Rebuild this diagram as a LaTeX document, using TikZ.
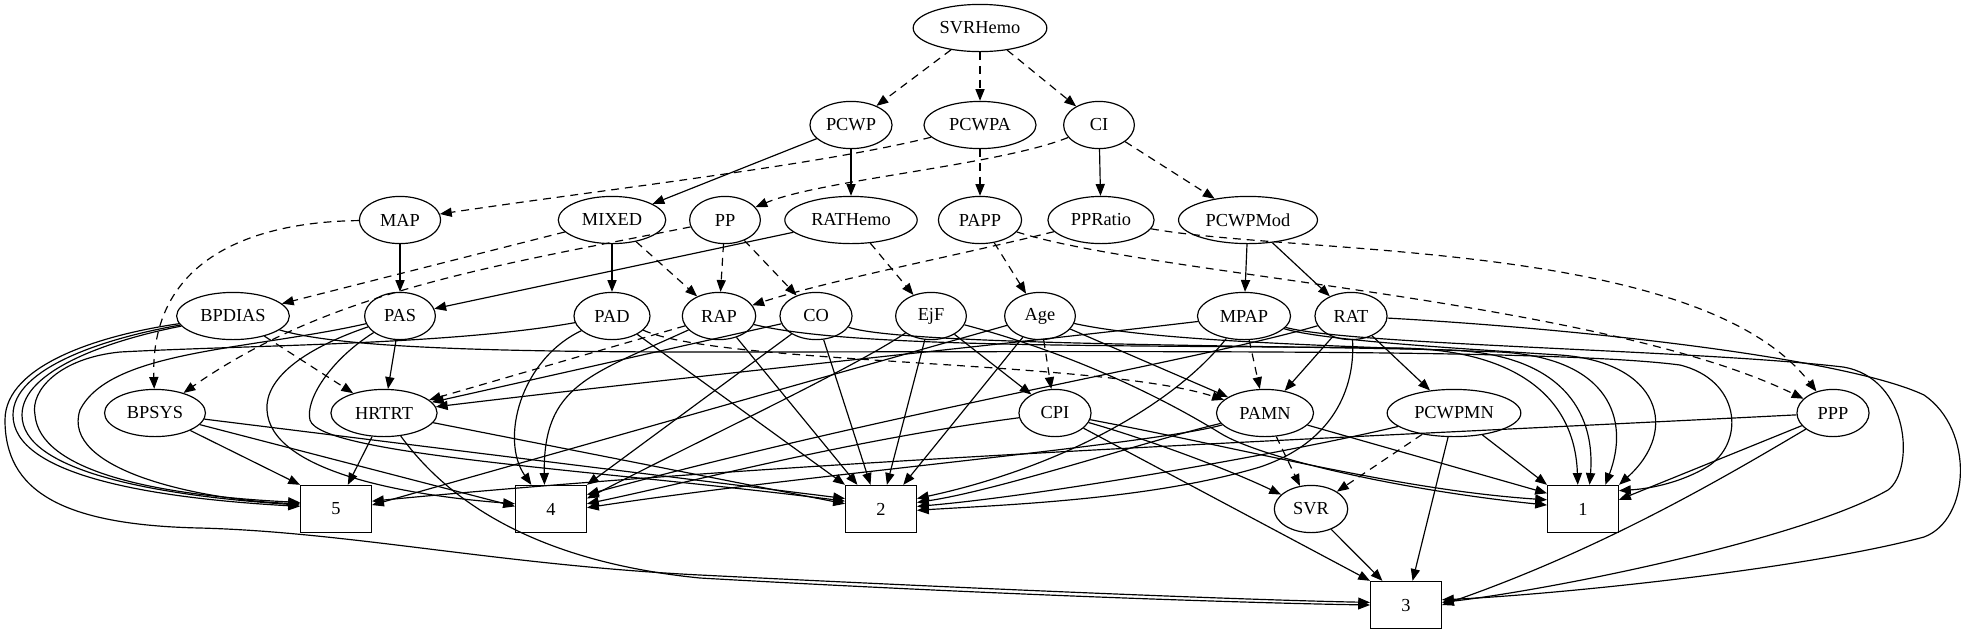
\documentclass[tikz,border=0pt]{standalone}
\usepackage{fontspec}
\setmainfont{Liberation Serif}
\usetikzlibrary{arrows.meta,shapes.geometric}
\begin{document}
\begin{tikzpicture}[x=0.763pt,y=-0.763pt,
  el/.style={draw, ellipse, line width=0.9pt, minimum height=36pt, inner sep=0pt, font=\fontsize{14}{16}\selectfont},
  bx/.style={draw, rectangle, line width=0.9pt, minimum width=54pt, minimum height=36pt, inner sep=0pt, font=\fontsize{14}{16}\selectfont},
  e/.style={-{Triangle[length=9pt,width=7pt]}, line width=0.9pt},
  d/.style={e, dash pattern=on 6pt off 4.5pt}]
\useasboundingbox (0,0) rectangle (1963,635);
% nodes
\node[el, minimum width=102pt] (SVRHemo) at (980,28) {SVRHemo};
\node[el, minimum width=62.6pt] (PCWP) at (851,125) {PCWP};
\node[el, minimum width=85.5pt] (PCWPA) at (980,125) {PCWPA};
\node[el, minimum width=54pt] (CI) at (1099,125) {CI};
\node[el, minimum width=62pt] (MAP) at (400,220) {MAP};
\node[el, minimum width=82pt] (MIXED) at (612,220) {MIXED};
\node[el, minimum width=54pt] (PP) at (725,220) {PP};
\node[el, minimum width=101pt] (RATHemo) at (851,220) {RATHemo};
\node[el, minimum width=63.5pt] (PAPP) at (980,220) {PAPP};
\node[el, minimum width=81pt] (PPRatio) at (1101,220) {PPRatio};
\node[el, minimum width=106pt] (PCWPMod) at (1248,220) {PCWPMod};
\node[el, minimum width=86pt] (BPDIAS) at (233,316) {BPDIAS};
\node[el, minimum width=54pt] (PAS) at (400,316) {PAS};
\node[el, minimum width=58pt] (PAD) at (612,316) {PAD};
\node[el, minimum width=56pt] (RAP) at (719,316) {RAP};
\node[el, minimum width=55pt] (CO) at (816,316) {CO};
\node[el, minimum width=54pt] (EjF) at (931,316) {EjF};
\node[el, minimum width=54pt] (Age) at (1040,316) {Age};
\node[el, minimum width=71pt] (MPAP) at (1244,316) {MPAP};
\node[el, minimum width=55pt] (RAT) at (1351,316) {RAT};
\node[el, minimum width=77pt] (BPSYS) at (155,413) {BPSYS};
\node[el, minimum width=81pt] (HRTRT) at (384,413) {HRTRT};
\node[el, minimum width=55pt] (CPI) at (1055,413) {CPI};
\node[el, minimum width=74pt] (PAMN) at (1265,413) {PAMN};
\node[el, minimum width=102pt] (PCWPMN) at (1454,413) {PCWPMN};
\node[el, minimum width=55pt] (PPP) at (1833,413) {PPP};
\node[bx] (b5) at (336,509) {5};
\node[bx] (b4) at (551,509) {4};
\node[bx] (b2) at (881,509) {2};
\node[el, minimum width=56pt] (SVR) at (1311,509) {SVR};
\node[bx] (b1) at (1583,509) {1};
\node[bx] (b3) at (1406,605) {3};
% dashed edges
\draw[d] (SVRHemo) -- (PCWP);
\draw[d] (SVRHemo) -- (PCWPA);
\draw[d] (SVRHemo) -- (CI);
\draw[d] (PCWPA) .. controls (820,165) and (600,190) .. (MAP);
\draw[d] (PCWPA) -- (PAPP);
\draw[d] (CI) .. controls (1000,165) and (820,180) .. (PP);
\draw[d] (CI) -- (PCWPMod);
\draw[d] (MAP) .. controls (250,222) and (150,260) .. (BPSYS);
\draw[d] (MIXED) -- (BPDIAS);
\draw[d] (MIXED) -- (RAP);
\draw[d] (PP) -- (RAP);
\draw[d] (PP) -- (CO);
\draw[d] (PP) .. controls (500,265) and (330,290) .. (BPSYS);
\draw[d] (RATHemo) -- (EjF);
\draw[d] (PAPP) -- (Age);
\draw[d] (PAPP) .. controls (1150,275) and (1600,300) .. (PPP);
\draw[d] (PPRatio) .. controls (1300,255) and (1700,240) .. (PPP);
\draw[d] (PPRatio) .. controls (960,255) and (830,280) .. (RAP);
\draw[d] (BPDIAS) -- (HRTRT);
\draw[d] (RAP) -- (HRTRT);
\draw[d] (PAD) .. controls (720,365) and (1100,360) .. (PAMN);
\draw[d] (Age) -- (CPI);
\draw[d] (MPAP) -- (PAMN);
\draw[d] (PAMN) -- (SVR);
\draw[d] (PCWPMN) -- (SVR);
% solid edges, upper part
\draw[e] (PCWP) -- (MIXED);
\draw[e] (PCWP) -- (RATHemo);
\draw[e] (CI) -- (PPRatio);
\draw[e] (MAP) -- (PAS);
\draw[e] (MIXED) -- (PAD);
\draw[e] (RATHemo) -- (PAS);
\draw[e] (PCWPMod) -- (MPAP);
\draw[e] (PCWPMod) -- (RAT);
% PAS
\draw[e] (PAS) -- (HRTRT);
\draw[e] (PAS) .. controls (250,350) and (110,350) .. (80,410) .. controls (60,470) and (200,500) .. ([yshift=4pt]b5.west);
\draw[e] (PAS) .. controls (300,350) and (265,380) .. (267,410) .. controls (270,470) and (400,495) .. ([yshift=4pt]b4.west);
\draw[e] (PAS) .. controls (330,360) and (305,400) .. (310,420) .. controls (320,455) and (600,470) .. ([yshift=6pt]b2.west);
% BPDIAS
\draw[e] (BPDIAS) .. controls (110,340) and (22,370) .. (22,415) .. controls (22,470) and (150,495) .. ([yshift=3pt]b5.west);
\draw[e] (BPDIAS) .. controls (105,338) and (13,368) .. (13,415) .. controls (13,475) and (150,498) .. ([yshift=2pt]b5.west);
\draw[e] (BPDIAS) .. controls (100,335) and (5,365) .. (5,420) .. controls (5,490) and (60,525) .. (200,528) .. controls (350,532) and (500,565) .. (700,575) .. controls (1000,590) and (1250,600) .. ([yshift=2pt]b3.west);
\draw[e] (BPDIAS) .. controls (330,345) and (450,352) .. (700,352) .. controls (1100,352) and (1550,348) .. (1680,365) .. controls (1740,380) and (1745,440) .. (1710,465) .. controls (1690,478) and (1660,488) .. ([yshift=14pt]b1.east);
% PAD
\draw[e] (PAD) .. controls (450,345) and (250,345) .. (120,352) .. controls (60,358) and (30,390) .. (35,415) .. controls (40,470) and (150,495) .. ([yshift=5pt]b5.west);
\draw[e] (PAD) .. controls (520,360) and (500,440) .. ([xshift=-15pt]b4.north);
\draw[e] (PAD) -- (b2.north west);
% RAP
\draw[e] (RAP) .. controls (590,375) and (543,385) .. ([xshift=-5pt]b4.north);
\draw[e] (RAP) -- ([xshift=-18pt]b2.north);
\draw[e] (RAP) .. controls (850,348) and (1100,345) .. (1400,348) .. controls (1520,350) and (1575,400) .. ([xshift=-4pt]b1.north);
% CO
\draw[e] (CO) -- (HRTRT);
\draw[e] (CO) -- (b4.north east);
\draw[e] (CO) -- ([xshift=-8pt]b2.north);
\draw[e] (CO) .. controls (900,345) and (1250,345) .. (1450,350) .. controls (1570,355) and (1595,420) .. ([xshift=5pt]b1.north);
% EjF
\draw[e] (EjF) -- (CPI);
\draw[e] (EjF) .. controls (850,370) and (700,440) .. ([yshift=8pt]b4.east);
\draw[e] (EjF) -- ([xshift=4.5pt]b2.north);
\draw[e] (EjF) .. controls (1060,350) and (1150,390) .. (1220,433) .. controls (1260,458) and (1400,490) .. ([yshift=3pt]b1.west);
% Age
\draw[e] (Age) -- (PAMN);
\draw[e] (Age) -- ([xshift=17pt]b2.north);
\draw[e] (Age) -- ([yshift=3pt]b5.east);
\draw[e] (Age) .. controls (1150,340) and (1300,345) .. (1500,352) .. controls (1610,358) and (1630,420) .. ([xshift=17pt]b1.north);
% MPAP
\draw[e] (MPAP) .. controls (1000,345) and (700,375) .. (HRTRT);
\draw[e] (MPAP) .. controls (1170,410) and (1050,470) .. ([yshift=8pt]b2.east);
\draw[e] (MPAP) .. controls (1320,340) and (1450,348) .. (1560,355) .. controls (1660,362) and (1680,430) .. (b1.north east);
\draw[e] (MPAP) .. controls (1350,345) and (1700,350) .. (1843,367) .. controls (1910,378) and (1915,470) .. (1888,490) .. controls (1800,540) and (1550,590) .. ([yshift=2pt]b3.east);
% RAT
\draw[e] (RAT) -- (PAMN);
\draw[e] (RAT) -- (PCWPMN);
\draw[e] (RAT) .. controls (1200,360) and (900,410) .. ([yshift=11pt]b4.east);
\draw[e] (RAT) .. controls (1355,380) and (1340,440) .. (1260,467) .. controls (1150,500) and (1000,505) .. ([yshift=-1pt]b2.east);
\draw[e] (RAT) .. controls (1600,330) and (1850,360) .. (1924,395) .. controls (1975,430) and (1970,520) .. (1924,537) .. controls (1800,570) and (1550,595) .. ([yshift=4pt]b3.east);
% BPSYS
\draw[e] (BPSYS) -- (b5.north west);
\draw[e] (BPSYS) -- ([yshift=2pt]b4.west);
\draw[e] (BPSYS) -- ([yshift=8pt]b2.west);
% HRTRT
\draw[e] (HRTRT) -- ([xshift=9pt]b5.north);
\draw[e] (HRTRT) -- ([yshift=4pt]b2.west);
\draw[e] (HRTRT) .. controls (440,490) and (520,560) .. (700,578) .. controls (1000,595) and (1250,603) .. (b3.west);
% CPI
\draw[e] (CPI) .. controls (850,440) and (700,480) .. ([yshift=4pt]b4.east);
\draw[e] (CPI) .. controls (1150,440) and (1230,470) .. (SVR);
\draw[e] (CPI) -- (b3.north west);
\draw[e] (CPI) .. controls (1250,450) and (1400,490) .. ([yshift=7pt]b1.west);
% PAMN
\draw[e] (PAMN) -- ([yshift=12pt]b1.west);
\draw[e] (PAMN) .. controls (1150,440) and (1000,490) .. ([yshift=5pt]b2.east);
\draw[e] (PAMN) .. controls (1150,445) and (800,475) .. ([yshift=1pt]b4.east);
% PCWPMN
\draw[e] (PCWPMN) -- (b1.north west);
\draw[e] (PCWPMN) -- ([xshift=5pt]b3.north);
\draw[e] (PCWPMN) .. controls (1300,450) and (1050,495) .. ([yshift=2pt]b2.east);
% PPP
\draw[e] (PPP) -- ([yshift=7pt]b1.east);
\draw[e] (PPP) .. controls (1720,480) and (1600,550) .. (b3.east);
\draw[e] (PPP) .. controls (1300,440) and (800,460) .. ([yshift=6pt]b5.east);
% SVR
\draw[e] (SVR) -- ([xshift=-18pt]b3.north);
\end{tikzpicture}
\end{document}
